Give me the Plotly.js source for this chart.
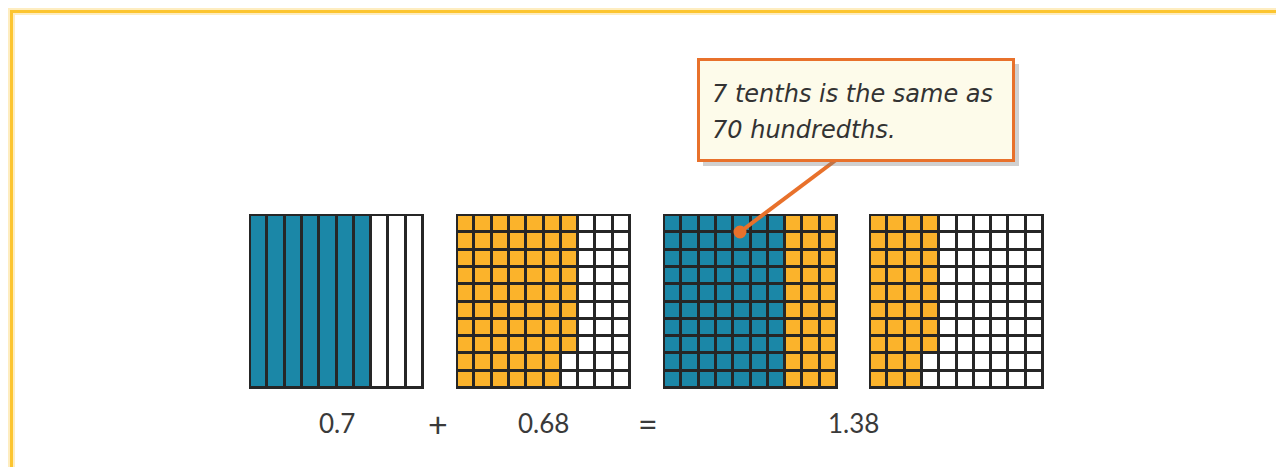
<!DOCTYPE html>
<html>
<head>
<meta charset="utf-8">
<script src="https://cdn.plot.ly/plotly-3.0.1.min.js"></script>
<style>html,body{margin:0;padding:0;background:#fff;}#chart{width:1276px;height:467px;}</style>
</head>
<body>
<div id="chart"></div>
<script>
// ---- data ----
const tenthsValue = 0.7;      // first addend, shown as tenths strips
const addendValue = 0.68;     // second addend, shown as hundredths
const sumValue = 1.38;        // result
const equationLabels = ['0.7', '+', '0.68', '=', '1.38'];
const calloutLines = ['7 tenths is the same as', '70 hundredths.'];

// ---- styles / layout constants ----
const BLUE = '#1b87a7', ORANGE = '#fbb32b', LINE = '#262626', FRAME = '#fcc530', CALL = '#e8712b';
const CELL = 17.3, TOP = 215, SIZE = 173;
const gridLefts = [250, 457, 664, 870];
const labelX = [337, 438, 543, 648, 853];
const labelSize = [26, 34, 26, 34, 26];

// build z matrices from the values (0 = white, 1 = orange, 2 = blue)
function hundredthsGrid(count, color, startFill, startColor) {
  const z = [];
  for (let r = 0; r < 10; r++) { z.push(new Array(10).fill(0)); }
  let idx = 0;
  const cells = [];
  for (let c = 0; c < 10; c++) for (let r = 0; r < 10; r++) cells.push([r, c]);
  for (let i = 0; i < (startFill || 0); i++) { const [r, c] = cells[idx++]; z[r][c] = startColor; }
  for (let i = 0; i < count; i++) { const [r, c] = cells[idx++]; z[r][c] = color; }
  return z;
}
const tenthsCount = Math.round(tenthsValue * 10);
const addHund = Math.round(addendValue * 100);
const tenthsAsHund = tenthsCount * 10;
const fillToWhole = 100 - tenthsAsHund;
const leftover = Math.round(sumValue * 100) - 100;

const zTenths = [Array.from({length: 10}, (_, i) => i < tenthsCount ? 2 : 0)];
const zAddend = hundredthsGrid(addHund, 1, 0, 0);
const zWhole = hundredthsGrid(fillToWhole, 1, tenthsAsHund, 2);
const zRest = hundredthsGrid(leftover, 1, 0, 0);

const cs = [[0, '#ffffff'], [0.25, '#ffffff'], [0.25, ORANGE], [0.75, ORANGE], [0.75, BLUE], [1, BLUE]];
function hm(z, left, rows) {
  return {
    type: 'heatmap', z: z, x0: left + CELL / 2, dx: CELL,
    y0: rows === 1 ? TOP + SIZE / 2 : TOP + CELL / 2, dy: rows === 1 ? SIZE : CELL,
    zmin: 0, zmax: 2, colorscale: cs, showscale: false, xgap: 3, ygap: 3, hoverinfo: 'skip'
  };
}
const traces = [
  hm(zTenths, gridLefts[0], 1),
  hm(zAddend, gridLefts[1], 10),
  hm(zWhole, gridLefts[2], 10),
  hm(zRest, gridLefts[3], 10)
];

const shapes = [];
// dark backing behind each grid
gridLefts.forEach(l => shapes.push({type: 'rect', xref: 'x', yref: 'y', x0: l - 1, x1: l + 10 * CELL + 1, y0: TOP - 1, y1: TOP + SIZE + 1, fillcolor: LINE, line: {width: 0}, layer: 'below'}));
// frame glow + frame
shapes.push({type: 'path', xref: 'x', yref: 'y', path: 'M 11.5 470 L 11.5 11.5 L 1280 11.5', line: {color: 'rgba(252,197,48,0.3)', width: 7}, layer: 'below'});
shapes.push({type: 'path', xref: 'x', yref: 'y', path: 'M 11.5 470 L 11.5 11.5 L 1280 11.5', line: {color: FRAME, width: 3}, layer: 'below'});
// callout pointer
shapes.push({type: 'line', xref: 'x', yref: 'y', x0: 740, y0: 232, x1: 836, y1: 160, line: {color: CALL, width: 4}, layer: 'above'});
shapes.push({type: 'circle', xref: 'x', yref: 'y', x0: 733.5, x1: 746.5, y0: 225.5, y1: 238.5, fillcolor: CALL, line: {width: 0}, layer: 'above'});
// callout shadow + box
shapes.push({type: 'rect', xref: 'x', yref: 'y', x0: 703, x1: 1019, y0: 64, y1: 166, fillcolor: 'rgba(120,120,120,0.35)', line: {width: 0}, layer: 'above'});
shapes.push({type: 'rect', xref: 'x', yref: 'y', x0: 698.5, x1: 1013.5, y0: 59.5, y1: 160.5, fillcolor: '#fdfbea', line: {color: CALL, width: 3}, layer: 'above'});

const annotations = [];
equationLabels.forEach((t, i) => annotations.push({
  x: labelX[i], y: 423, xref: 'x', yref: 'y', text: t, showarrow: false,
  xanchor: 'center', yanchor: 'middle', font: {family: 'Lato, Open Sans, sans-serif', size: labelSize[i], color: '#3a3a3a'}
}));
calloutLines.forEach((t, i) => annotations.push({
  x: 710, y: 94 + i * 36, xref: 'x', yref: 'y', text: '<i>' + t + '</i>', showarrow: false,
  xanchor: 'left', yanchor: 'middle', font: {family: 'DejaVu Sans, sans-serif', size: 24, color: '#333333'}
}));

const layout = {
  width: 1276, height: 467, margin: {l: 0, r: 0, t: 0, b: 0},
  paper_bgcolor: '#ffffff', plot_bgcolor: '#ffffff', showlegend: false,
  xaxis: {range: [0, 1276], visible: false, fixedrange: true},
  yaxis: {range: [467, 0], visible: false, fixedrange: true},
  shapes: shapes, annotations: annotations
};
Plotly.newPlot('chart', traces, layout, {staticPlot: true, displayModeBar: false});
</script>
</body>
</html>
